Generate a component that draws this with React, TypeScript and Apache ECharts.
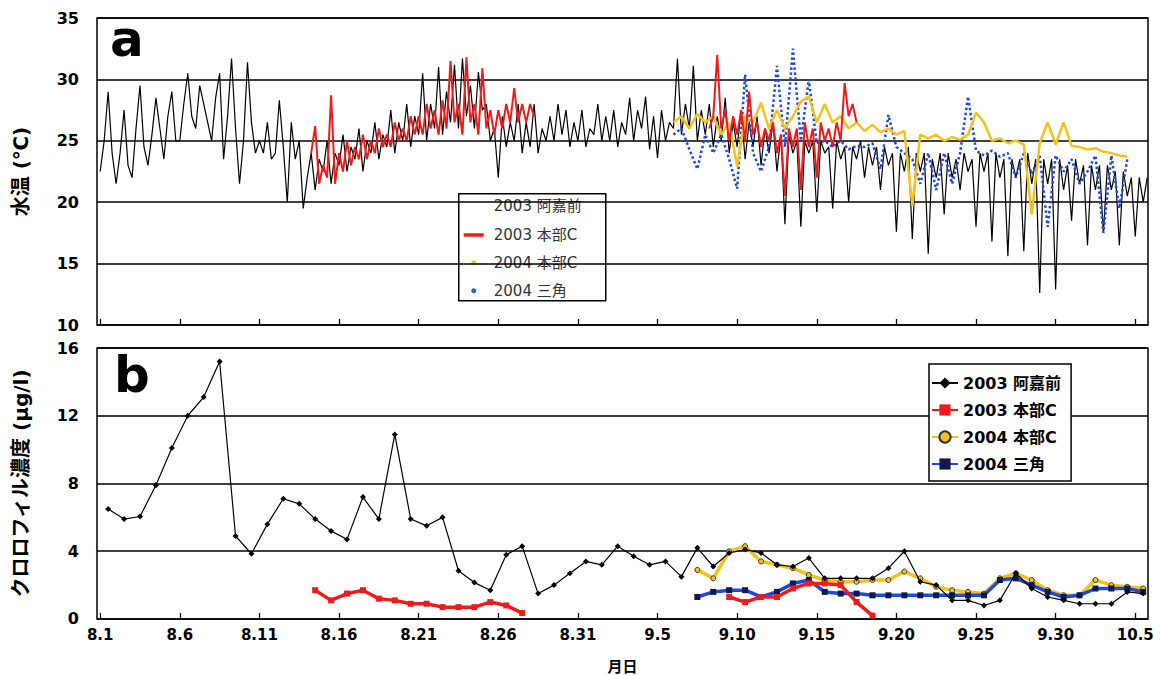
import React, { useEffect, useRef } from "react";
import * as echarts from "echarts";

// ---- axis ticks (days since Aug 1) ----
const xTickDays = [0, 5, 10, 15, 20, 25, 30, 35, 40, 45, 50, 55, 60, 65];
const xTickLabels = ["8.1", "8.6", "8.11", "8.16", "8.21", "8.26", "8.31", "9.5", "9.10", "9.15", "9.20", "9.25", "9.30", "10.5"];

const seriesNames = ["2003 阿嘉前", "2003 本部C", "2004 本部C", "2004 三角"];

// ---- panel a: water temperature (°C) ----
// 2003 black, 4 samples per day from day 0
const tempBlackStart = 0;
const tempBlackStep = 0.25;
const tempBlack = [
  22.5, 25, 29, 24, 21.5, 24, 27.5, 23, 22, 26, 29.5, 24.5, 23, 25.5, 28.5, 26,
  23.5, 27, 29, 25, 25, 28, 30.5, 27, 26, 29.5, 28, 26.5, 25, 28.5, 30.5, 23.5,
  27, 31.7, 26, 21.5, 25, 31.4, 26.5, 24, 25, 24, 26.5, 23.5, 24, 28.3, 24.5, 20,
  26.5, 23.5, 25, 19.5, 22, 24, 21, 23.5, 22.5, 25, 21.5, 24, 23, 25.5, 22.5, 24.5,
  23.5, 26, 22.5, 25, 24, 26.5, 23.5, 25.5, 24.5, 27.5, 24, 26.5, 25, 28, 24.5, 27,
  25.5, 30.5, 25, 28, 26, 31, 25.5, 29, 26.5, 31.2, 26, 31.7, 27, 29.5, 26, 30.6,
  27.5, 28, 25, 26, 22, 27, 24.5, 26.5, 25, 28, 24, 26.5, 24.5, 28, 24, 26,
  25, 27, 25, 28, 25.5, 27.5, 24.5, 26.5,
  25, 27.5, 24.5, 26, 25.5, 28, 25, 27, 25, 27.5, 24.5, 26.5, 25.5, 28.5, 25, 27.5,
  26, 28.6, 24.3, 27, 23.6, 27.5, 25, 26.5, 26, 31.7, 25.5, 28, 26, 31.1, 25, 27.5,
  25.5, 28, 24.5, 27, 25, 28.5, 24, 26.5, 24.5, 27.5, 23.5, 26.5, 24.5, 27, 23, 26,
  24, 26.5, 22.5, 25.5, 18.2, 25.5, 24, 25, 18, 25, 24, 25, 19.2, 25, 24, 24.5,
  19.5, 25, 23.5, 24.5, 20, 24.5, 23.5, 25, 22, 24.5, 23, 24.5, 21, 24.5, 23, 24,
  17.6, 24, 22.5, 24.5, 17, 24, 22.5, 24, 15.8, 23.5, 22, 24, 19, 24, 22, 23.5,
  21, 24, 22.5, 23.5, 18, 24, 22.5, 24, 16.8, 24, 22, 23.5, 15.6, 23.5, 22, 23.5,
  16, 24, 21.5, 23.5, 12.6, 23.5, 21.5, 23.5, 12.9, 23.5, 21, 23, 18.5, 23.5, 21.5, 23,
  16.5, 23, 21, 23, 17.5, 23, 21, 22.5, 16.5, 22.5, 20.5, 22, 17.2, 22, 20, 22,
];
// 2003 red, two logger periods, 4 samples per day
const tempRed1Start = 13.25;
const tempRed1 = [
  24, 26.2, 21.5, 23, 22, 28.7, 21.5, 24, 22.5, 25, 23, 24.5, 23.5, 25.5, 23.5, 25,
  24, 26, 24.5, 25.5, 24.5, 26.5, 25, 26, 25, 27, 25.5, 27, 25.5, 28, 26, 27.5,
  25.5, 28.3, 26, 31.5, 26.5, 28, 25.5, 31.8, 26.5, 28, 25.5, 30.9, 26, 27.5, 25.5, 27.5,
  26, 28, 26.5, 29.3, 26.5, 28, 26.5, 28, 27,
];
const tempRed2Start = 38.25;
const tempRed2 = [
  26, 27, 32, 26, 27.5, 25, 27, 25.5, 27.5, 25, 29, 25.5, 26.5, 24.5, 26, 25,
  26.5, 24, 25.5, 20.5, 26, 24.5, 26, 21, 26.5, 24.5, 26, 22, 26.5, 25, 26, 24.5,
  26.5, 25, 29.7, 27, 28, 26.5,
];
const tempRedStep = 0.25;
// 2004, 2 samples per day from day 36
const temp2004Start = 36;
const temp2004Step = 0.5;
const tempYellow = [
  26.5, 27, 26, 27.2, 26.5, 27, 25.5, 26.5, 22.9, 27, 26.5, 28.1, 26, 27.5, 26, 27,
  28.2, 28.6, 26.5, 28, 26.5, 27, 26, 26.5, 25.8, 26.3, 25.7, 26, 25.5, 25.8, 19.7, 25.5,
  25.2, 25.5, 25, 25.3, 25.1, 25.5, 27.3, 26.5, 25, 25.2, 24.8, 25, 24.7, 19, 24.8, 26.5,
  24.7, 26.5, 24.6, 24.5, 24.3, 24.4, 24.1, 24, 23.8, 23.7,
];
const tempBlue = [
  25.5, 26, 24.3, 22.7, 25.5, 24, 25.5, 23.5, 21.1, 30.4, 24, 22.5, 24.5, 31.1, 24.5, 32.5,
  25, 30, 24.8, 25, 24.5, 25, 24.3, 24.6, 24.5, 24.8, 22.7, 27.1, 24.5, 24, 23.5, 21.5,
  24, 21, 24, 21.5, 24, 28.6, 24.2, 23.8, 24.2, 23.7, 24, 22, 24, 22.3, 23.8, 18,
  23.8, 22.5, 23.5, 21.5, 22.5, 23.8, 17.5, 23.8, 19.5, 23.5,
];

// ---- panel b: chlorophyll (µg/l), one sample per day (index = day since Aug 1, sampled at noon) ----
const chlBlack = [
  6.5, 5.9, 6.05, 7.9, 10.1, 12.0, 13.1, 15.2, 4.9, 3.85,
  5.6, 7.1, 6.8, 5.9, 5.2, 4.7, 7.2, 5.9, 10.9, 5.9,
  5.5, 6.0, 2.85, 2.15, 1.7, 3.8, 4.3, 1.5, 2.0, 2.7,
  3.4, 3.2, 4.3, 3.7, 3.2, 3.4, 2.5, 4.2, 3.1, 3.9,
  4.1, 3.9, 3.2, 3.1, 3.6, 2.4, 2.4, 2.4, 2.4, 3.0,
  4.0, 2.2, 2.0, 1.1, 1.1, 0.8, 1.1, 2.7, 1.8, 1.3,
  1.1, 0.9, 0.9, 0.9, 1.6, 1.5,
];
const chlRed = [
  null, null, null, null, null, null, null, null, null, null,
  null, null, null, 1.7, 1.1, 1.5, 1.7, 1.2, 1.1, 0.9,
  0.9, 0.7, 0.7, 0.7, 1.0, 0.8, 0.35, null, null, null,
  null, null, null, null, null, null, null, null, null, 1.3,
  1.0, 1.3, 1.3, 1.8, 2.1, 2.1, 2.0, 1.0, 0.2, null,
  null, null, null, null, null, null, null, null, null, null,
  null, null, null, null, null, null,
];
const chlYellow = [
  null, null, null, null, null, null, null, null, null, null,
  null, null, null, null, null, null, null, null, null, null,
  null, null, null, null, null, null, null, null, null, null,
  null, null, null, null, null, null, null, 2.9, 2.4, 4.0,
  4.3, 3.4, 3.2, 3.0, 2.6, 2.3, 2.2, 2.2, 2.3, 2.3,
  2.8, 2.4, 1.9, 1.7, 1.6, 1.5, 2.4, 2.7, 2.3, 1.7,
  1.4, 1.4, 2.3, 2.0, 1.9, 1.8,
];
const chlBlue = [
  null, null, null, null, null, null, null, null, null, null,
  null, null, null, null, null, null, null, null, null, null,
  null, null, null, null, null, null, null, null, null, null,
  null, null, null, null, null, null, null, 1.3, 1.6, 1.7,
  1.7, 1.3, 1.6, 2.1, 2.3, 1.6, 1.5, 1.5, 1.4, 1.4,
  1.4, 1.4, 1.4, 1.4, 1.4, 1.4, 2.3, 2.4, 2.0, 1.6,
  1.3, 1.4, 1.8, 1.8, 1.8, 1.6,
];

const C_BLACK = "#000000";
const C_RED = "#ec1c1c";
const C_YELLOW = "#f4c21c";
const C_BLUE = "#1f48e0";
const FONT = "'DejaVu Sans', 'Noto Sans CJK JP', sans-serif";

const timePairs = (arr: number[], start: number, step: number) =>
  arr.map((v, i) => [start + i * step, v]);
const dayPairs = (arr: (number | null)[]) =>
  arr.map((v, i) => [i + 0.5, v == null ? "-" : v]);

export default function App() {
  const ref = useRef<HTMLDivElement>(null);

  useEffect(() => {
    if (!ref.current) return;
    const chart = echarts.init(ref.current, null, { renderer: "svg" });

    const xLabel = (v: number) => {
      const i = xTickDays.indexOf(Math.round(v));
      return i >= 0 ? xTickLabels[i] : "";
    };

    const makeX = (gridIndex: number, showLabels: boolean) => ({
      type: "value",
      gridIndex,
      min: -0.2,
      max: 65.8,
      axisLine: { show: false },
      axisTick: {
        show: true,
        inside: true,
        length: 6,
        customValues: xTickDays,
        lineStyle: { color: "#000", width: 1.3 },
      },
      axisLabel: {
        show: showLabels,
        customValues: xTickDays,
        formatter: xLabel,
        color: "#000",
        fontFamily: FONT,
        fontWeight: "bold",
        fontSize: 15,
        margin: 8,
      },
      splitLine: { show: false },
      name: showLabels ? "月日" : "",
      nameLocation: "middle",
      nameGap: 40,
      nameTextStyle: { color: "#000", fontFamily: FONT, fontWeight: "bold", fontSize: 15 },
    });

    const makeY = (gridIndex: number, min: number, max: number, interval: number, name: string) => ({
      type: "value",
      gridIndex,
      min,
      max,
      interval,
      axisLine: { show: false },
      axisTick: { show: false },
      axisLabel: {
        color: "#000",
        fontFamily: FONT,
        fontWeight: "bold",
        fontSize: 16,
        margin: 18,
      },
      splitLine: { show: true, lineStyle: { color: "#000", width: 1.5 } },
      name,
      nameLocation: "middle",
      nameGap: 66,
      nameTextStyle: { color: "#000", fontFamily: FONT, fontWeight: "bold", fontSize: 20 },
    });

    const redTemp = [
      ...timePairs(tempRed1, tempRed1Start, tempRedStep),
      [30, "-"],
      ...timePairs(tempRed2, tempRed2Start, tempRedStep),
    ];

    const option: any = {
      animation: false,
      backgroundColor: "#ffffff",
      grid: [
        { left: 97, top: 18, width: 1051, height: 307, show: true, borderColor: "#000", borderWidth: 1.5, backgroundColor: "transparent" },
        { left: 97, top: 348, width: 1051, height: 274, show: true, borderColor: "#000", borderWidth: 1.5, backgroundColor: "transparent" },
      ],
      xAxis: [makeX(0, false), makeX(1, true)],
      yAxis: [makeY(0, 10, 35, 5, "水温 (℃)"), makeY(1, 0, 16, 4, "クロロフィル濃度 (μg/l)")],
      legend: [
        {
          data: seriesNames,
          orient: "vertical",
          left: 929,
          top: 364,
          itemWidth: 26,
          itemHeight: 14,
          itemGap: 11,
          padding: [11, 10, 9, 2],
          backgroundColor: "#fff",
          borderColor: "#000",
          borderWidth: 1.5,
          borderRadius: 0,
          selectedMode: false,
          textStyle: { color: "#000", fontFamily: FONT, fontWeight: "bold", fontSize: 16 },
        },
      ],
      series: [
        // panel b first (legend picks these styles)
        {
          name: seriesNames[0], type: "line", xAxisIndex: 1, yAxisIndex: 1,
          data: dayPairs(chlBlack), symbol: "diamond", symbolSize: 6, showSymbol: true,
          lineStyle: { color: C_BLACK, width: 1.2 }, itemStyle: { color: C_BLACK }, z: 5,
        },
        {
          name: seriesNames[1], type: "line", xAxisIndex: 1, yAxisIndex: 1,
          data: dayPairs(chlRed), symbol: "rect", symbolSize: 6, showSymbol: true,
          lineStyle: { color: C_RED, width: 3.5 }, itemStyle: { color: C_RED }, z: 4,
        },
        {
          name: seriesNames[2], type: "line", xAxisIndex: 1, yAxisIndex: 1,
          data: dayPairs(chlYellow), symbol: "circle", symbolSize: 5, showSymbol: true,
          lineStyle: { color: C_YELLOW, width: 3.5 }, itemStyle: { color: C_YELLOW, borderColor: "#333", borderWidth: 1 }, z: 3,
        },
        {
          name: seriesNames[3], type: "line", xAxisIndex: 1, yAxisIndex: 1,
          data: dayPairs(chlBlue), symbol: "rect", symbolSize: 6, showSymbol: true,
          lineStyle: { color: C_BLUE, width: 3.5 }, itemStyle: { color: "#101a4a" }, z: 3,
        },
        // panel a
        {
          name: seriesNames[0], type: "line", xAxisIndex: 0, yAxisIndex: 0,
          data: timePairs(tempBlack, tempBlackStart, tempBlackStep), showSymbol: false,
          lineStyle: { color: C_BLACK, width: 1.2 }, itemStyle: { color: C_BLACK }, z: 2,
        },
        {
          name: seriesNames[3], type: "line", xAxisIndex: 0, yAxisIndex: 0,
          data: timePairs(tempBlue, temp2004Start, temp2004Step), showSymbol: false,
          lineStyle: { color: C_BLUE, width: 2.5, type: "dotted" }, itemStyle: { color: C_BLUE }, z: 3,
        },
        {
          name: seriesNames[2], type: "line", xAxisIndex: 0, yAxisIndex: 0,
          data: timePairs(tempYellow, temp2004Start, temp2004Step), showSymbol: false,
          lineStyle: { color: C_YELLOW, width: 2.5 }, itemStyle: { color: C_YELLOW }, z: 4,
        },
        {
          name: seriesNames[1], type: "line", xAxisIndex: 0, yAxisIndex: 0,
          data: redTemp, showSymbol: false,
          lineStyle: { color: C_RED, width: 2 }, itemStyle: { color: C_RED }, z: 5,
        },
      ],
      graphic: [
        { type: "text", left: 110, top: 14, z: 50, style: { text: "a", font: `bold 50px ${FONT}`, fill: "#000" } },
        { type: "text", left: 114, top: 350, z: 50, style: { text: "b", font: `bold 50px ${FONT}`, fill: "#000" } },
        {
          type: "group",
          left: 458,
          top: 193,
          z: 60,
          children: [
            { type: "rect", shape: { x: 0, y: 0, width: 147, height: 107 }, style: { fill: "#fff", stroke: "#000", lineWidth: 1.5 } },
            { type: "text", x: 35, y: 12, style: { text: seriesNames[0], font: `15px ${FONT}`, fill: "#333", verticalAlign: "middle" } },
            { type: "rect", shape: { x: 5, y: 39.5, width: 20, height: 3.5 }, style: { fill: C_RED } },
            { type: "text", x: 35, y: 41, style: { text: seriesNames[1], font: `15px ${FONT}`, fill: "#333", verticalAlign: "middle" } },
            { type: "circle", shape: { cx: 15, cy: 69, r: 2.5 }, style: { fill: C_YELLOW } },
            { type: "text", x: 35, y: 69, style: { text: seriesNames[2], font: `15px ${FONT}`, fill: "#333", verticalAlign: "middle" } },
            { type: "circle", shape: { cx: 15, cy: 97, r: 2.5 }, style: { fill: "#3a5fcf" } },
            { type: "text", x: 35, y: 97, style: { text: seriesNames[3], font: `15px ${FONT}`, fill: "#333", verticalAlign: "middle" } },
          ],
        },
      ],
    };

    chart.setOption(option);
    return () => chart.dispose();
  }, []);

  return (
    <div
      ref={ref}
      style={{ position: "fixed", left: 0, top: 0, width: 1160, height: 675, background: "#fff" }}
    />
  );
}
